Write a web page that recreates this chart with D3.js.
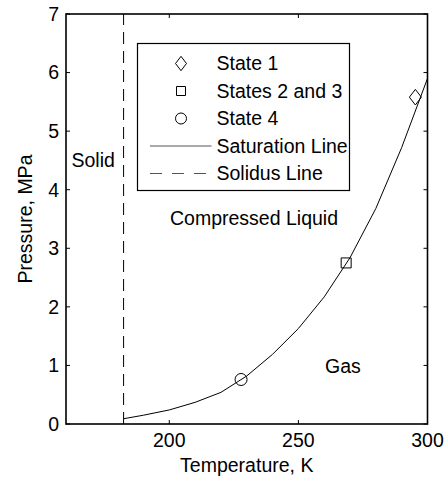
<!DOCTYPE html>
<html>
<head>
<meta charset="utf-8">
<script src="https://cdn.jsdelivr.net/npm/d3@7"></script>
<style>
	body { margin: 0; background: #fff; }
	text { font-family: "Liberation Sans", Arial, sans-serif; fill: #000; }
</style>
</head>
<body>
<svg id="chart" width="448" height="479"></svg>
<script>
// saturation curve
var satT = [182.3, 190, 200, 210, 220, 230, 240, 250, 260, 270, 280, 290, 300];
var satP = [0.09, 0.15, 0.24, 0.37, 0.54, 0.82, 1.19, 1.63, 2.17, 2.84, 3.68, 4.72, 5.90];
// solidus line temperature
var solidusT = 182.3;
// state points
var stateNames = ["State 1", "States 2 and 3", "State 4"];
var stateShapes = ["diamond", "square", "circle"];
var stateT = [295.3, 268.5, 227.8];
var stateP = [5.58, 2.75, 0.76];
// ticks
var xTicks = [200, 250, 300];
var yTicks = [0, 1, 2, 3, 4, 5, 6, 7];
var legendNames = ["State 1", "States 2 and 3", "State 4", "Saturation Line", "Solidus Line"];

var svg = d3.select("#chart");
var pLeft = 66, pRight = 427.5, pTop = 14, pBottom = 424;
var fs = "19.5px";

var x = d3.scaleLinear().domain([160, 300]).range([pLeft, pRight]);
var y = d3.scaleLinear().domain([0, 7]).range([pBottom, pTop]);

var g = svg.append("g");

//ticks, pointing inwards on all four sides
var tl = 4;
xTicks.forEach(function(t){
	g.append("line").attr("x1", x(t)).attr("x2", x(t)).attr("y1", pBottom).attr("y2", pBottom - tl)
		.attr("stroke", "#000").attr("stroke-width", 1);
	g.append("line").attr("x1", x(t)).attr("x2", x(t)).attr("y1", pTop).attr("y2", pTop + tl)
		.attr("stroke", "#000").attr("stroke-width", 1);
	g.append("text").attr("x", x(t)).attr("y", pBottom + 22.5)
		.attr("text-anchor", "middle").style("font-size", fs).text(t);
});
yTicks.forEach(function(t){
	g.append("line").attr("x1", pLeft).attr("x2", pLeft + tl).attr("y1", y(t)).attr("y2", y(t))
		.attr("stroke", "#000").attr("stroke-width", 1);
	g.append("line").attr("x1", pRight).attr("x2", pRight - tl).attr("y1", y(t)).attr("y2", y(t))
		.attr("stroke", "#000").attr("stroke-width", 1);
	g.append("text").attr("x", pLeft - 7).attr("y", y(t) + 6.8)
		.attr("text-anchor", "end").style("font-size", fs).text(t);
});

// frame
g.append("rect").attr("x", pLeft).attr("y", pTop).attr("width", pRight - pLeft).attr("height", pBottom - pTop)
	.attr("fill", "none").attr("stroke", "#000").attr("stroke-width", 1.6);

// axis labels
g.append("text").attr("x", (pLeft + pRight) / 2).attr("y", 471.5)
	.attr("text-anchor", "middle").style("font-size", fs).text("Temperature, K");
g.append("text").attr("transform", "translate(32," + ((pTop + pBottom) / 2) + ") rotate(-90)")
	.attr("text-anchor", "middle").style("font-size", fs).text("Pressure, MPa");

// solidus line
g.append("line").attr("x1", x(solidusT)).attr("x2", x(solidusT)).attr("y1", pBottom).attr("y2", pTop)
	.attr("stroke", "#000").attr("stroke-width", 1).attr("stroke-dasharray", "12,7");

// saturation line
var line = d3.line().x(function(d, i){ return x(satT[i]); }).y(function(d){ return y(d); });
g.append("path").attr("d", line(satP)).attr("fill", "none").attr("stroke", "#000").attr("stroke-width", 1);

// markers
var sym = {
	diamond: function(s){ return "M0," + (-s * 0.65) + "L" + (s * 0.5) + ",0L0," + (s * 0.65) + "L" + (-s * 0.5) + ",0Z"; },
	square: function(s){ var h = s / 2; return "M" + (-h) + "," + (-h) + "H" + h + "V" + h + "H" + (-h) + "Z"; },
	circle: function(s){ var r = s / 2; return "M" + r + ",0A" + r + "," + r + " 0 1,1 " + (-r) + ",0A" + r + "," + r + " 0 1,1 " + r + ",0Z"; }
};
var sizes = { diamond: 12, square: 10, circle: 12 };
stateT.forEach(function(t, i){
	var s = stateShapes[i];
	g.append("path").attr("transform", "translate(" + x(t) + "," + y(stateP[i]) + ")")
		.attr("d", sym[s](sizes[s])).attr("fill", "none").attr("stroke", "#000").attr("stroke-width", 1);
});

// region labels
g.append("text").attr("x", 71.5).attr("y", 166.5).style("font-size", fs).text("Solid");
g.append("text").attr("x", 170).attr("y", 225).style("font-size", fs).text("Compressed Liquid");
g.append("text").attr("x", 325).attr("y", 372.5).style("font-size", fs).text("Gas");

// legend
var lg = svg.append("g");
lg.append("rect").attr("x", 137.5).attr("y", 43.5).attr("width", 212).attr("height", 147)
	.attr("fill", "#fff").attr("stroke", "#000").attr("stroke-width", 1.2);
legendNames.forEach(function(name, i){
	var ly = 63.5 + i * 27.5;
	if (i < 3) {
		var s = stateShapes[i];
		lg.append("path").attr("transform", "translate(181," + ly + ")")
			.attr("d", sym[s](s === "square" ? 9 : 11)).attr("fill", "none").attr("stroke", "#000").attr("stroke-width", 1);
	} else {
		lg.append("line").attr("x1", 150).attr("x2", 211.5).attr("y1", ly).attr("y2", ly)
			.attr("stroke", "#555").attr("stroke-width", 1)
			.attr("stroke-dasharray", i === 4 ? "12,10" : null);
	}
	lg.append("text").attr("x", 216.5).attr("y", ly + 6.8).style("font-size", fs).text(name);
});
</script>
</body>
</html>
